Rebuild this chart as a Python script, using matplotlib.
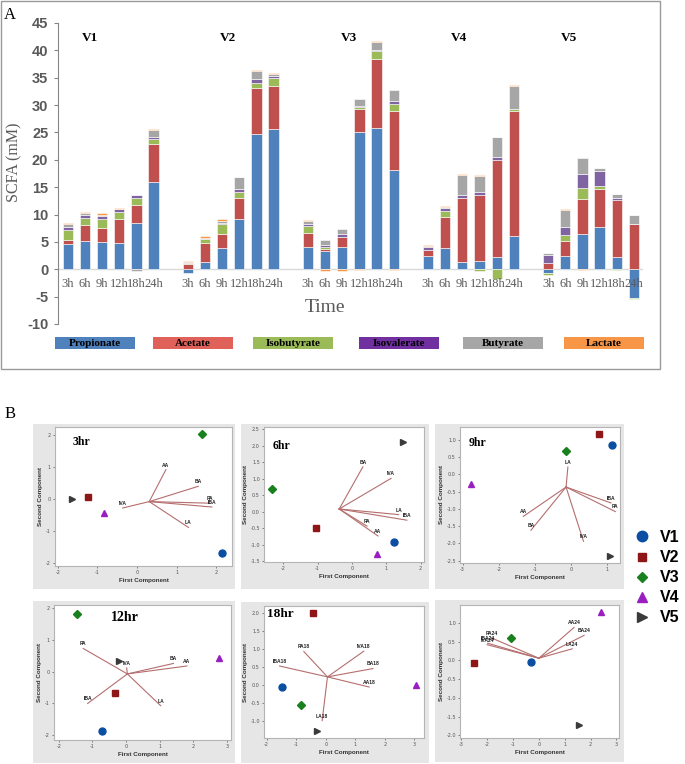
import matplotlib
matplotlib.use("Agg")
import matplotlib.pyplot as plt
from matplotlib.patches import Rectangle
from matplotlib.lines import Line2D
import numpy as np

plt.rcParams["axes.unicode_minus"] = False

W, H = 685, 764
DPI = 100

# ---------------- Panel A data ----------------
groups = ["V1", "V2", "V3", "V4", "V5"]
times = ["3h", "6h", "9h", "12h", "18h", "24h"]
components = ["Propionate", "Acetate", "Isobutyrate", "Isovalerate", "Butyrate", "Lactate"]

propionate = [4.7, 5.2, 4.9, 4.8, 8.5, 16.0,
              -0.7, 1.4, 3.8, 9.2, 24.7, 25.7,
              4.0, 3.4, 4.0, 25.0, 25.8, 18.2,
              2.5, 3.8, 1.4, 1.6, 2.3, 6.1,
              -0.7, 2.5, 6.5, 7.7, 2.3, -5.2]
acetate = [0.6, 2.8, 2.6, 4.3, 3.3, 6.9,
           1.0, 3.4, 2.6, 3.8, 8.4, 7.8,
           2.7, 0.3, 1.9, 4.3, 12.7, 10.8,
           1.0, 5.8, 11.7, 11.9, 17.6, 22.9,
           1.2, 2.6, 6.3, 7.0, 10.4, 8.2]
isobutyrate = [1.8, 1.3, 1.6, 1.4, 1.2, 0.9,
               0.1, 0.7, 1.8, 1.2, 1.0, 1.4,
               1.2, 0.3, 0.0, 0.3, 1.3, 1.2,
               0.0, 1.1, 0.0, -0.3, -1.8, 0.3,
               -0.3, 1.1, 2.1, 0.6, -0.2, -0.2]
isovalerate = [0.6, 0.7, 0.7, 0.5, 0.5, 0.4,
               0.1, 0.1, 0.3, 0.5, 0.6, 0.5,
               0.4, 0.5, 0.5, 0.3, 0.2, 0.5,
               0.6, 0.5, 0.5, 0.6, 0.6, 0.0,
               1.4, 1.6, 2.5, 2.7, 0.3, 0.0]
butyrate = [0.5, 0.3, 0.1, 0.1, -0.4, 1.2,
            0.1, 0.2, 0.4, 2.1, 1.6, 0.3,
            0.6, 0.8, 1.0, 1.2, 1.5, 2.0,
            0.2, 0.2, 3.7, 3.0, 3.6, 4.2,
            0.3, 3.1, 3.0, 0.5, 0.7, 1.7]
lactate = [0.2, 0.2, 0.3, 0.1, 0.1, 0.2,
           0.2, 0.2, 0.2, 0.1, 0.1, 0.1,
           0.1, -0.3, -0.3, -0.2, 0.3, -0.2,
           0.1, 0.2, 0.1, 0.1, 0.1, 0.1,
           0.1, 0.2, -0.1, 0.0, 0.1, 0.0]
yticks_A = list(range(-10, 50, 5))

# ---------------- Panel B data ----------------
panel_titles = ["3hr", "6hr", "9hr", "12hr", "18hr", ""]
# score coordinates for V1..V5
scores_x = [[2.14, -1.24, 1.65, -0.82, -1.65],
            [1.23, -1.06, -2.32, 0.73, 1.50],
            [1.12, 0.76, -0.13, -2.76, 1.06],
            [-0.72, -0.33, -1.47, 2.77, -0.22],
            [-1.49, -0.43, -0.85, 3.05, -0.28],
            [-0.32, -2.52, -1.07, 2.42, 1.56]]
scores_y = [[-1.69, 0.08, 2.05, -0.44, 0.00],
            [-0.91, -0.50, 0.69, -1.29, 2.10],
            [0.84, 1.16, 0.67, -0.27, -2.37],
            [-1.88, -0.66, 1.81, 0.44, 0.35],
            [-0.06, 2.00, -0.57, -0.01, -1.27],
            [-0.05, -0.07, 0.59, 1.30, -1.71]]
# loading vectors
vec_origin = [(0.31, -0.08), (-0.37, 0.08), (-0.14, -0.37),
              (0.04, -0.07), (0.06, 0.22), (0.00, 0.06)]
vec_labels = [["AA", "BA", "PA", "IBA", "LA", "IVA"],
              ["BA", "IVA", "LA", "IBA", "PA", "AA"],
              ["LA", "IBA", "PA", "AA", "BA", "IVA"],
              ["PA", "BA", "AA", "IVA", "IBA", "LA"],
              ["PA18", "IVA18", "IBA18", "BA18", "AA18", "LA18"],
              ["AA24", "BA24", "LA24", "PA24", "IBA24", "IVA24"]]
vec_x = [[0.73, 1.55, 1.85, 1.89, 1.30, -0.36],
         [0.32, 1.14, 1.36, 1.60, 0.44, 0.76],
         [-0.09, 1.10, 1.22, -1.32, -1.11, 0.34],
         [-1.27, 1.41, 1.81, 0.02, -1.14, 1.03],
         [-0.74, 1.29, -1.56, 1.60, 1.47, -0.12],
         [1.36, 1.75, 1.29, -1.83, -1.98, -2.00]]
vec_y = [[0.92, 0.40, -0.13, -0.25, -0.89, -0.28],
         [1.36, 1.01, -0.09, -0.26, -0.44, -0.74],
         [0.21, -0.83, -1.08, -1.22, -1.62, -1.94],
         [0.73, 0.26, 0.18, 0.12, -1.00, -1.07],
         [0.92, 0.93, 0.52, 0.45, -0.06, -0.99],
         [0.88, 0.67, 0.31, 0.60, 0.46, 0.42]]
xlims = [(-2.07, 2.4), (-2.56, 2.1), (-3.07, 1.35), (-2.14, 3.12), (-2.09, 3.33), (-3.05, 3.1)]
ylims = [(-2.1, 2.26), (-1.53, 2.57), (-2.57, 1.37), (-2.15, 2.1), (-1.47, 2.18), (-2.07, 1.48)]
xticks_B = [[-2, -1, 0, 1, 2], [-2, -1, 0, 1, 2], [-3, -2, -1, 0, 1],
            [-2, -1, 0, 1, 2, 3], [-2, -1, 0, 1, 2, 3], [-3, -2, -1, 0, 1, 2, 3]]
yticks_B = [[-2, -1, 0, 1, 2],
            [-1.5, -1.0, -0.5, 0.0, 0.5, 1.0, 1.5, 2.0, 2.5],
            [-2.5, -2.0, -1.5, -1.0, -0.5, 0.0, 0.5, 1.0],
            [-2, -1, 0, 1, 2],
            [-1.0, -0.5, 0.0, 0.5, 1.0, 1.5, 2.0],
            [-2.0, -1.5, -1.0, -0.5, 0.0, 0.5, 1.0]]

# ---------------- styles ----------------
bar_colors = ["#4F81BD", "#C0504D", "#9BBB59", "#8064A2", "#A6A6A6", "#F79646"]
legend_colors = ["#4F81BD", "#E0605A", "#9BBB59", "#7030A0", "#A6A6A6", "#F79646"]
marker_styles = ["o", "s", "D", "^", ">"]
marker_colors = ["#0B4EA2", "#8E1616", "#18801C", "#9A1FC0", "#3A3A3A"]
marker_sizes = [5.0, 3.8, 3.6, 4.6, 4.2]
vec_color = "#B56E6E"
SERIF = ["Liberation Serif", "DejaVu Serif"]
SANS = ["Liberation Sans", "DejaVu Sans"]


def rect(l, t, r, b):
    return [l / W, 1 - b / H, (r - l) / W, (b - t) / H]


fig = plt.figure(figsize=(W / DPI, H / DPI), dpi=DPI)
fig.patch.set_facecolor("white")

# ================= Panel A =================
fig.patches.append(Rectangle((1 / W, 1 - 369 / H), 659 / W, 368 / H, transform=fig.transFigure,
                             facecolor="none", edgecolor="#9a9a9a", lw=1.0, zorder=-1))
fig.text(10 / W, 1 - 15 / H, "A", family=SERIF, fontsize=12, ha="center", va="center")

axA = fig.add_axes(rect(58, 23, 643, 324))
axA.set_zorder(1)
n_per = len(times)
positions = []
for gi in range(len(groups)):
    for ti in range(n_per):
        positions.append(gi * (n_per + 1) + ti)
positions = np.array(positions, dtype=float)

series = [propionate, acetate, isobutyrate, isovalerate, butyrate, lactate]
pos_bottom = np.zeros(len(positions))
neg_bottom = np.zeros(len(positions))
for vals, col in zip(series, bar_colors):
    v = np.array(vals, dtype=float)
    bottoms = np.where(v >= 0, pos_bottom, neg_bottom)
    axA.bar(positions, v, width=0.6, bottom=bottoms, color=col,
            edgecolor="white", linewidth=0.4, zorder=3)
    pos_bottom = pos_bottom + np.where(v >= 0, v, 0)
    neg_bottom = neg_bottom + np.where(v < 0, v, 0)

axA.set_xlim(-0.57, 33.53)
axA.set_ylim(-10, 45)
axA.axhline(0, color="#d9d9d9", lw=1.0, zorder=2)
for s in ["top", "right", "bottom"]:
    axA.spines[s].set_visible(False)
axA.spines["left"].set_color("#868686")
axA.set_xticks([])
axA.set_yticks(yticks_A)
axA.tick_params(axis="y", colors="#868686", length=3, width=0.8, direction="out", pad=4)
for lab in axA.get_yticklabels():
    lab.set_fontweight("bold")
    lab.set_color("#595959")
    lab.set_family(SANS)
    lab.set_fontsize(10.5)
axA.set_facecolor("none")

for x, t in zip(positions, times * len(groups)):
    axA.text(x, -2.7, t, family=SERIF, fontsize=9, color="#595959", ha="center", va="center")

group_label_x = [1.3, 9.33, 16.4, 22.8, 29.2]
for gx, g in zip(group_label_x, groups):
    axA.text(gx, 42.2, g, family=SERIF, fontweight="bold", fontsize=9.5, ha="center", va="center")

fig.text(325 / W, 1 - 308 / H, "Time", family=SERIF, fontsize=14, color="#595959",
         ha="center", va="center")
fig.text(14 / W, 1 - 162 / H, "SCFA (mM)", family=SERIF, fontsize=11.5, color="#595959",
         rotation=90, ha="center", va="center")

legend_left = [55, 153, 253, 359, 463, 564]
for lx, name, col in zip(legend_left, components, legend_colors):
    fig.patches.append(Rectangle((lx / W, 1 - 349 / H), 80 / W, 12 / H, transform=fig.transFigure,
                                 facecolor=col, edgecolor="none", zorder=-1))
    fig.text((lx + 40) / W, 1 - 343.5 / H, name, family=SERIF, fontweight="bold", fontsize=8,
             ha="center", va="center", color="black", zorder=2)

# ================= Panel B =================
fig.text(10 / W, 1 - 414 / H, "B", family=SERIF, fontsize=12, ha="center", va="center")

frames = [(33, 424, 235, 589), (241, 424, 429, 589), (435, 424, 624, 589),
          (33, 601, 235, 763), (241, 602, 429, 763), (435, 600, 624, 762)]
axes_px = [(55, 427, 232, 566), (264, 427, 424, 562), (460, 427, 620, 563),
           (54, 605, 231, 740), (264, 606, 424, 738), (460, 605, 619, 738)]
title_pos = [(0.15, 0.89), (0.11, 0.86), (0.11, 0.88), (0.40, 0.91), (0.10, 0.94), (0.1, 0.9)]
title_size = [8.5, 8.5, 8.5, 10, 9.5, 8.5]

for i in range(6):
    fl, ft, fr, fb = frames[i]
    fig.patches.append(Rectangle((fl / W, 1 - fb / H), (fr - fl) / W, (fb - ft) / H,
                                 transform=fig.transFigure, facecolor="#e6e6e6",
                                 edgecolor="none", zorder=-1))
    ax = fig.add_axes(rect(*axes_px[i]))
    ax.set_zorder(1)
    ax.set_facecolor("white")
    for s in ax.spines.values():
        s.set_color("#b4b4b4")
        s.set_linewidth(0.8)
    ox, oy = vec_origin[i]
    for lab, ex, ey in zip(vec_labels[i], vec_x[i], vec_y[i]):
        ax.plot([ox, ex], [oy, ey], color=vec_color, lw=0.8, zorder=2)
        ax.annotate(lab, xy=(ex, ey), xytext=(0, 1.5), textcoords="offset points",
                    ha="center", va="bottom", fontsize=3.6, fontweight="bold",
                    family=SANS, color="#222222", zorder=3)
    for k in range(5):
        ax.plot(scores_x[i][k], scores_y[i][k], marker=marker_styles[k], ms=marker_sizes[k],
                color=marker_colors[k], mec=marker_colors[k], ls="none", zorder=4)
    ax.set_xlim(*xlims[i])
    ax.set_ylim(*ylims[i])
    ax.set_xticks(xticks_B[i])
    ax.set_yticks(yticks_B[i])
    ax.tick_params(labelsize=3.5, length=1.5, width=0.5, colors="#555555", pad=1.5)
    ax.set_xlabel("First Component", fontsize=4.5, fontweight="bold", family=SANS,
                  color="#333333", labelpad=2)
    ax.set_ylabel("Second Component", fontsize=4.5, fontweight="bold", family=SANS,
                  color="#333333", labelpad=2)
    if panel_titles[i]:
        ax.text(title_pos[i][0], title_pos[i][1], panel_titles[i], transform=ax.transAxes,
                family=SERIF, fontweight="bold", fontsize=title_size[i],
                ha="center", va="center")

handles = [Line2D([], [], marker=m, ls="none", color=c, mec=c, ms=s)
           for m, c, s in zip(marker_styles, marker_colors, [7.5, 6, 5.5, 7, 6.5])]
fig.legend(handles, groups, loc="upper left", bbox_to_anchor=(634 / W, 1 - 530 / H),
           frameon=False, handlelength=1.0, handletextpad=0.6, labelspacing=0.32,
           borderaxespad=0, borderpad=0,
           prop={"family": SANS, "weight": "bold", "size": 11.5})

fig.savefig("out.png", dpi=DPI, facecolor="white")
